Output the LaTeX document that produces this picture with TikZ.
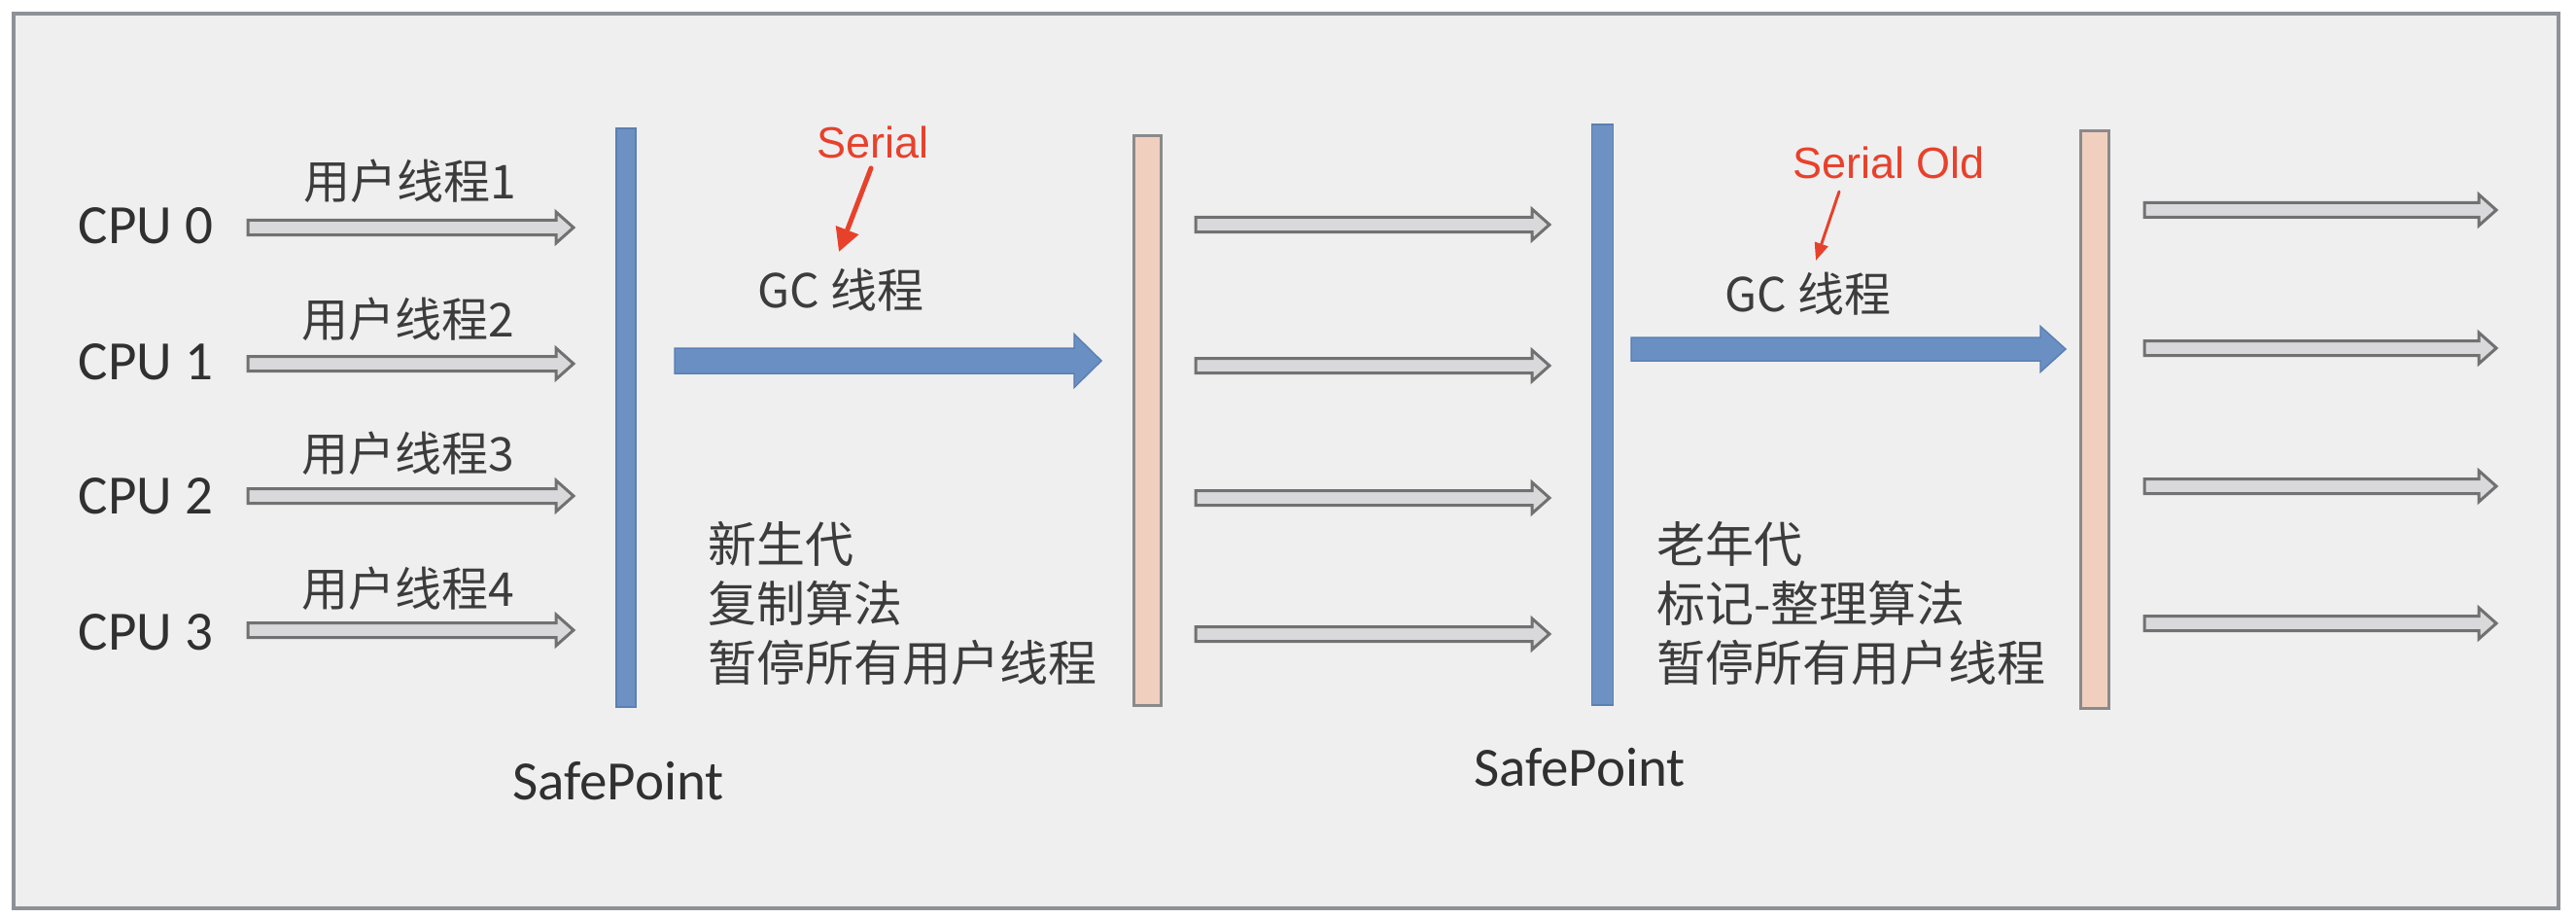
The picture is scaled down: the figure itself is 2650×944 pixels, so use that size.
\documentclass[tikz,border=0pt]{standalone}
\usepackage{fontspec}
\setmainfont{Carlito}
\newfontfamily\cjkfont{Noto Sans CJK SC}
\newfontfamily\notefont{Liberation Sans}
\usetikzlibrary{arrows.meta,calc}

\definecolor{panelbg}{HTML}{EFEFF0}
\definecolor{framegray}{HTML}{8E9297}
\definecolor{barblue}{HTML}{6C91C2}
\definecolor{barblueedge}{HTML}{5A7FB2}
\definecolor{peach}{HTML}{F0CFBF}
\definecolor{peachedge}{HTML}{8A8A8A}
\definecolor{tubefill}{HTML}{D9D9DB}
\definecolor{tubeedge}{HTML}{717171}
\definecolor{gcblue}{HTML}{6A90C3}
\definecolor{gcblueedge}{HTML}{5B80B4}
\definecolor{notered}{HTML}{E8412B}
\definecolor{inkgray}{HTML}{303030}
\definecolor{cjkgray}{HTML}{3C3C3C}

% block arrow drawn along the start point's row: {shaft half}{head half}{head length}
\tikzset{
  blockarrow/.style n args={3}{to path={let \p1=(\tikztostart), \p2=(\tikztotarget) in
    (\x1,\y1+#1) -- (\x2-#3,\y1+#1) -- (\x2-#3,\y1+#2) -- (\x2,\y1)
    -- (\x2-#3,\y1-#2) -- (\x2-#3,\y1-#1) -- (\x1,\y1-#1) -- cycle}},
  tube/.style={draw=tubeedge, fill=tubefill, line width=3pt, line join=miter,
    blockarrow={7.5pt}{16pt}{18pt}},
  gcarrow/.style={draw=gcblueedge, fill=gcblue, line width=1.5pt, line join=miter},
  bluebar/.style={draw=barblueedge, fill=barblue, line width=1.5pt, inner sep=0pt},
  peachbar/.style={draw=peachedge, fill=peach, line width=3pt, inner sep=0pt},
  cpulabel/.style={font=\fontsize{57pt}{60pt}\selectfont, text=inkgray, inner sep=0pt},
  threadlabel/.style={font=\cjkfont\fontsize{48pt}{50pt}\selectfont, text=cjkgray, inner sep=0pt},
  blocktext/.style={font=\cjkfont\fontsize{50pt}{61pt}\selectfont, text=cjkgray,
    inner sep=0pt, align=left, anchor=west},
  notelabel/.style={font=\notefont\fontsize{45pt}{48pt}\selectfont, text=notered, inner sep=0pt},
  noteline/.style={draw=notered, line cap=round},
}

\begin{document}
\begin{tikzpicture}[x=1pt,y=-1pt]
\useasboundingbox (0,0) rectangle (2650,944);
\fill[white] (0,0) rectangle (2650,944);
\draw[framegray, fill=panelbg, line width=4pt] (14,14) rectangle (2632,934);

% CPU rows
\node[cpulabel] (cpu0) at (150,232) {CPU 0};
\node[cpulabel] (cpu1) at (150,372) {CPU 1};
\node[cpulabel] (cpu2) at (150,510) {CPU 2};
\node[cpulabel] (cpu3) at (150,650) {CPU 3};

\node[threadlabel] (u1) at (422,186) {用户线程1};
\node[threadlabel] (u2) at (420,328) {用户线程2};
\node[threadlabel] (u3) at (420,466) {用户线程3};
\node[threadlabel] (u4) at (420,605) {用户线程4};

% safepoint and pause bars
\node[bluebar, minimum width=20pt, minimum height=595pt] (sp1) at (644,429.5) {};
\node[peachbar, minimum width=28pt, minimum height=586pt] (pb1) at (1180.5,432.5) {};
\node[bluebar, minimum width=22pt, minimum height=597pt] (sp2) at (1648.5,426.5) {};
\node[peachbar, minimum width=29pt, minimum height=594pt] (pb2) at (2155,431.5) {};

\node[cpulabel] (safe1) at (636,803) {SafePoint};
\node[cpulabel] (safe2) at (1625,789) {SafePoint};

% user thread arrows, left group
\coordinate (l0s) at (255,234); \coordinate (l0e) at (590,234);
\coordinate (l1s) at (255,374); \coordinate (l1e) at (590,374);
\coordinate (l2s) at (255,510); \coordinate (l2e) at (590,510);
\coordinate (l3s) at (255,648); \coordinate (l3e) at (590,648);
\foreach \i in {0,...,3} \draw[tube] (l\i s) to (l\i e);

% user thread arrows, middle group
\coordinate (m0s) at (1230,231); \coordinate (m0e) at (1594,231);
\coordinate (m1s) at (1230,376); \coordinate (m1e) at (1594,376);
\coordinate (m2s) at (1230,512); \coordinate (m2e) at (1594,512);
\coordinate (m3s) at (1230,652); \coordinate (m3e) at (1594,652);
\foreach \i in {0,...,3} \draw[tube] (m\i s) to (m\i e);

% user thread arrows, right group
\coordinate (r0s) at (2206,216); \coordinate (r0e) at (2568,216);
\coordinate (r1s) at (2206,358); \coordinate (r1e) at (2568,358);
\coordinate (r2s) at (2206,500); \coordinate (r2e) at (2568,500);
\coordinate (r3s) at (2206,641); \coordinate (r3e) at (2568,641);
\foreach \i in {0,...,3} \draw[tube] (r\i s) to (r\i e);

% GC threads
\coordinate (g1s) at (694,371); \coordinate (g1e) at (1133,371);
\draw[gcarrow, blockarrow={13pt}{27.5pt}{28pt}] (g1s) to (g1e);
\coordinate (g2s) at (1678,359); \coordinate (g2e) at (2125,359);
\draw[gcarrow, blockarrow={12pt}{23.5pt}{26pt}] (g2s) to (g2e);

\node[threadlabel] (gc1) at (865,298) {GC 线程};
\node[threadlabel] (gc2) at (1860,302) {GC 线程};

% phase descriptions
\node[blocktext] (young) at (728,621) {新生代\\复制算法\\暂停所有用户线程};
\node[blocktext] (old) at (1704,621) {老年代\\标记-整理算法\\暂停所有用户线程};

% collector notes
\node[notelabel] (serial) at (898,146) {Serial};
\node[notelabel] (serialold) at (1943,167) {Serial Old};
\coordinate (n1s) at (896,173); \coordinate (n1e) at (863,259);
\draw[noteline, line width=5pt, -{Triangle[width=24pt,length=24pt]}] (n1s) -- (n1e);
\coordinate (n2s) at (1892,197); \coordinate (n2e) at (1868,268);
\draw[noteline, line width=3pt, -{Triangle[width=14pt,length=18pt]}] (n2s) -- (n2e);
\end{tikzpicture}
\end{document}
